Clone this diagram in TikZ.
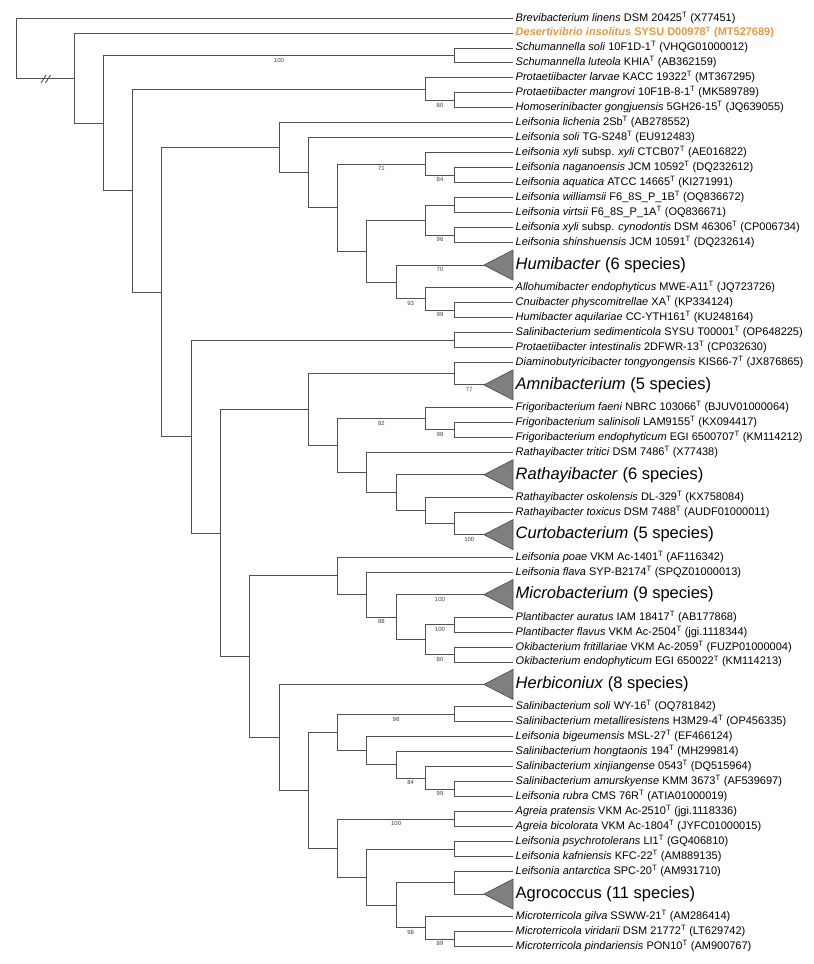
\documentclass[tikz,border=0pt]{standalone}
\usepackage{fontspec}
\setmainfont{Liberation Sans}
\definecolor{ln}{HTML}{505050}
\definecolor{org}{RGB}{236,151,64}
\definecolor{trif}{HTML}{7F7F7F}
\newcommand\tsup{\textsuperscript{T}}
\newcommand\ed[2]{\draw[br] (#1) |- (#2);}
\newcommand\eb[3]{\draw[br] (#1) |- node[bs,pos=0.75]{#3} (#2);}
\begin{document}
\begin{tikzpicture}[x=1pt, y=-14.976pt,
  br/.style={draw=ln, line width=0.9pt},
  lf/.style={anchor=west, inner sep=2.5pt, font=\fontsize{11}{12}\selectfont, text height=8pt, text depth=2pt},
  big/.style={anchor=west, inner sep=2.5pt, font=\fontsize{16.5}{18}\selectfont, text height=12pt, text depth=3.5pt},
  bs/.style={font=\fontsize{6}{6}\selectfont, text=black!75, inner sep=0pt, yshift=-4.6pt},
  tri/.style={fill=trif, draw=ln, line width=0.7pt}]
\useasboundingbox (0,-1.20192) rectangle (814,63.16774);
% leaves
\foreach \n/\u in {1/0,2/1,3/2,4/3,5/4,6/5,7/6,8/7,9/8,10/9,11/10,12/11,13/12,14/13,15/14,16/15,
  18/18,19/19,20/20,21/21,22/22,23/23,25/26,26/27,27/28,28/29,30/32,31/33,33/36,34/37,
  36/40,37/41,38/42,39/43,41/46,42/47,43/48,44/49,45/50,46/51,47/52,48/53,49/54,50/55,51/56,52/57,
  54/60,55/61,56/62}
  {\coordinate (l\n) at (513,\u);}
% triangle apexes
\coordinate (hu) at (483.92,16.5);
\coordinate (am) at (483.92,24.5);
\coordinate (ra) at (483.92,30.5);
\coordinate (cu) at (483.92,34.5);
\coordinate (mi) at (483.92,38.5);
\coordinate (he) at (483.92,44.5);
\coordinate (ag) at (483.92,58.5);
\foreach \t in {hu,am,ra,cu,mi,he,ag}
  {\filldraw[tri] (\t) -- ++(29.08,-1) -- ++(0,2) -- cycle;}
% internal nodes
\coordinate (root) at (16,2.00351);
\coordinate (n1) at (74,4.00702);
\coordinate (n2) at (103.28,7.01404);
\coordinate (sch) at (454.64,2.5);
\coordinate (n3) at (132.56,11.52808);
\coordinate (pr) at (425.36,4.75);
\coordinate (pr2) at (454.64,5.5);
\coordinate (n4) at (161.84,18.30615);
\coordinate (le) at (278.96,8.66406);
\coordinate (le9) at (308.24,10.32813);
\coordinate (le10) at (337.52,12.65625);
\coordinate (le13a) at (425.36,9.75);
\coordinate (le14a) at (454.64,10.5);
\coordinate (le11) at (366.8,15.5625);
\coordinate (le13b) at (425.36,13.5);
\coordinate (le14b) at (454.64,12.5);
\coordinate (le14c) at (454.64,14.5);
\coordinate (le12) at (396.08,17.625);
\coordinate (le13c) at (425.36,18.75);
\coordinate (le14d) at (454.64,19.5);
\coordinate (n5) at (191.12,27.94824);
\coordinate (sa) at (454.64,21.5);
\coordinate (n6) at (220.4,34.39648);
\coordinate (a9) at (308.24,26.14844);
\coordinate (a14) at (454.64,23.75);
\coordinate (a10) at (337.52,28.54688);
\coordinate (a13) at (425.36,26.75);
\coordinate (a14b) at (454.64,27.5);
\coordinate (a11) at (366.8,30.34375);
\coordinate (a12) at (396.08,31.6875);
\coordinate (a13b) at (425.36,32.875);
\coordinate (a14c) at (454.64,33.75);
\coordinate (n7) at (249.68,42.64453);
\coordinate (b10) at (337.52,37.25);
\coordinate (b11) at (366.8,38.5);
\coordinate (b12) at (396.08,40);
\coordinate (b13) at (425.36,41.5);
\coordinate (b14a) at (454.64,40.5);
\coordinate (b14b) at (454.64,42.5);
\coordinate (n8) at (278.96,48.03906);
\coordinate (c9) at (308.24,51.57813);
\coordinate (c10) at (337.52,47.71875);
\coordinate (c14a) at (454.64,46.5);
\coordinate (c11) at (366.8,48.9375);
\coordinate (c12) at (396.08,49.875);
\coordinate (c13) at (425.36,50.75);
\coordinate (c14b) at (454.64,51.5);
\coordinate (d10) at (337.52,55.4375);
\coordinate (d14a) at (454.64,53.5);
\coordinate (d11) at (366.8,57.375);
\coordinate (d14b) at (454.64,55.5);
\coordinate (d12) at (396.08,59.25);
\coordinate (d14c) at (454.64,57.75);
\coordinate (d13) at (425.36,60.75);
\coordinate (d14d) at (454.64,61.5);
% edges
\ed{root}{l1}\ed{root}{n1}
\draw[br] (41,4.34) -- (46,3.81) (45.5,4.34) -- (50.5,3.81);
\ed{n1}{l2}\ed{n1}{n2}
\eb{n2}{sch}{100}\ed{n2}{n3}
\ed{sch}{l3}\ed{sch}{l4}
\ed{n3}{pr}\ed{n3}{n4}
\ed{pr}{l5}\eb{pr}{pr2}{80}
\ed{pr2}{l6}\ed{pr2}{l7}
\ed{n4}{le}\ed{n4}{n5}
\ed{le}{l8}\ed{le}{le9}
\ed{le9}{l9}\ed{le9}{le10}
\eb{le10}{le13a}{71}\ed{le10}{le11}
\ed{le13a}{l10}\eb{le13a}{le14a}{84}
\ed{le14a}{l11}\ed{le14a}{l12}
\ed{le11}{le13b}\ed{le11}{le12}
\ed{le13b}{le14b}\eb{le13b}{le14c}{96}
\ed{le14b}{l13}\ed{le14b}{l14}
\ed{le14c}{l15}\ed{le14c}{l16}
\eb{le12}{hu}{70}\eb{le12}{le13c}{93}
\ed{le13c}{l18}\eb{le13c}{le14d}{99}
\ed{le14d}{l19}\ed{le14d}{l20}
\ed{n5}{sa}\ed{n5}{n6}
\ed{sa}{l21}\ed{sa}{l22}
\ed{n6}{a9}\ed{n6}{n7}
\ed{a9}{a14}\ed{a9}{a10}
\ed{a14}{l23}\eb{a14}{am}{77}
\eb{a10}{a13}{82}\ed{a10}{a11}
\ed{a13}{l25}\eb{a13}{a14b}{98}
\ed{a14b}{l26}\ed{a14b}{l27}
\ed{a11}{l28}\ed{a11}{a12}
\ed{a12}{ra}\ed{a12}{a13b}
\ed{a13b}{l30}\ed{a13b}{a14c}
\ed{a14c}{l31}\eb{a14c}{cu}{100}
\ed{n7}{b10}\ed{n7}{n8}
\ed{b10}{l33}\ed{b10}{b11}
\ed{b11}{l34}\eb{b11}{b12}{88}
\eb{b12}{mi}{100}\ed{b12}{b13}
\eb{b13}{b14a}{100}\eb{b13}{b14b}{80}
\ed{b14a}{l36}\ed{b14a}{l37}
\ed{b14b}{l38}\ed{b14b}{l39}
\ed{n8}{he}\ed{n8}{c9}
\ed{c9}{c10}\ed{c9}{d10}
\eb{c10}{c14a}{98}\ed{c10}{c11}
\ed{c14a}{l41}\ed{c14a}{l42}
\ed{c11}{l43}\ed{c11}{c12}
\ed{c12}{l44}\eb{c12}{c13}{84}
\ed{c13}{l45}\eb{c13}{c14b}{99}
\ed{c14b}{l46}\ed{c14b}{l47}
\eb{d10}{d14a}{100}\ed{d10}{d11}
\ed{d14a}{l48}\ed{d14a}{l49}
\ed{d11}{d14b}\ed{d11}{d12}
\ed{d14b}{l50}\ed{d14b}{l51}
\ed{d12}{d14c}\eb{d12}{d13}{98}
\ed{d14c}{l52}\ed{d14c}{ag}
\ed{d13}{l54}\eb{d13}{d14d}{89}
\ed{d14d}{l55}\ed{d14d}{l56}
% labels
\node[lf] (t1) at (l1) {\textit{Brevibacterium linens} DSM 20425\tsup{} (X77451)};
\node[lf, text=org, font=\fontsize{11}{12}\selectfont\bfseries] (t2) at (l2) {\textit{Desertivibrio insolitus} SYSU D00978\tsup{} (MT527689)};
\node[lf] (t3) at (l3) {\textit{Schumannella soli} 10F1D-1\tsup{} (VHQG01000012)};
\node[lf] (t4) at (l4) {\textit{Schumannella luteola} KHIA\tsup{} (AB362159)};
\node[lf] (t5) at (l5) {\textit{Protaetiibacter larvae} KACC 19322\tsup{} (MT367295)};
\node[lf] (t6) at (l6) {\textit{Protaetiibacter mangrovi} 10F1B-8-1\tsup{} (MK589789)};
\node[lf] (t7) at (l7) {\textit{Homoserinibacter gongjuensis} 5GH26-15\tsup{} (JQ639055)};
\node[lf] (t8) at (l8) {\textit{Leifsonia lichenia} 2Sb\tsup{} (AB278552)};
\node[lf] (t9) at (l9) {\textit{Leifsonia soli} TG-S248\tsup{} (EU912483)};
\node[lf] (t10) at (l10) {\textit{Leifsonia xyli} subsp. \textit{xyli} CTCB07\tsup{} (AE016822)};
\node[lf] (t11) at (l11) {\textit{Leifsonia naganoensis} JCM 10592\tsup{} (DQ232612)};
\node[lf] (t12) at (l12) {\textit{Leifsonia aquatica} ATCC 14665\tsup{} (KI271991)};
\node[lf] (t13) at (l13) {\textit{Leifsonia williamsii} F6\_8S\_P\_1B\tsup{} (OQ836672)};
\node[lf] (t14) at (l14) {\textit{Leifsonia virtsii} F6\_8S\_P\_1A\tsup{} (OQ836671)};
\node[lf] (t15) at (l15) {\textit{Leifsonia xyli} subsp. \textit{cynodontis} DSM 46306\tsup{} (CP006734)};
\node[lf] (t16) at (l16) {\textit{Leifsonia shinshuensis} JCM 10591\tsup{} (DQ232614)};
\node[big] (t17) at (513,16.5) {\textit{Humibacter} (6 species)};
\node[lf] (t18) at (l18) {\textit{Allohumibacter endophyticus} MWE-A11\tsup{} (JQ723726)};
\node[lf] (t19) at (l19) {\textit{Cnuibacter physcomitrellae} XA\tsup{} (KP334124)};
\node[lf] (t20) at (l20) {\textit{Humibacter aquilariae} CC-YTH161\tsup{} (KU248164)};
\node[lf] (t21) at (l21) {\textit{Salinibacterium sedimenticola} SYSU T00001\tsup{} (OP648225)};
\node[lf] (t22) at (l22) {\textit{Protaetiibacter intestinalis} 2DFWR-13\tsup{} (CP032630)};
\node[lf] (t23) at (l23) {\textit{Diaminobutyricibacter tongyongensis} KIS66-7\tsup{} (JX876865)};
\node[big] (t24) at (513,24.5) {\textit{Amnibacterium} (5 species)};
\node[lf] (t25) at (l25) {\textit{Frigoribacterium faeni} NBRC 103066\tsup{} (BJUV01000064)};
\node[lf] (t26) at (l26) {\textit{Frigoribacterium salinisoli} LAM9155\tsup{} (KX094417)};
\node[lf] (t27) at (l27) {\textit{Frigoribacterium endophyticum} EGI 6500707\tsup{} (KM114212)};
\node[lf] (t28) at (l28) {\textit{Rathayibacter tritici} DSM 7486\tsup{} (X77438)};
\node[big] (t29) at (513,30.5) {\textit{Rathayibacter} (6 species)};
\node[lf] (t30) at (l30) {\textit{Rathayibacter oskolensis} DL-329\tsup{} (KX758084)};
\node[lf] (t31) at (l31) {\textit{Rathayibacter toxicus} DSM 7488\tsup{} (AUDF01000011)};
\node[big] (t32) at (513,34.5) {\textit{Curtobacterium} (5 species)};
\node[lf] (t33) at (l33) {\textit{Leifsonia poae} VKM Ac-1401\tsup{} (AF116342)};
\node[lf] (t34) at (l34) {\textit{Leifsonia flava} SYP-B2174\tsup{} (SPQZ01000013)};
\node[big] (t35) at (513,38.5) {\textit{Microbacterium} (9 species)};
\node[lf] (t36) at (l36) {\textit{Plantibacter auratus} IAM 18417\tsup{} (AB177868)};
\node[lf] (t37) at (l37) {\textit{Plantibacter flavus} VKM Ac-2504\tsup{} (jgi.1118344)};
\node[lf] (t38) at (l38) {\textit{Okibacterium fritillariae} VKM Ac-2059\tsup{} (FUZP01000004)};
\node[lf] (t39) at (l39) {\textit{Okibacterium endophyticum} EGI 650022\tsup{} (KM114213)};
\node[big] (t40) at (513,44.5) {\textit{Herbiconiux} (8 species)};
\node[lf] (t41) at (l41) {\textit{Salinibacterium soli} WY-16\tsup{} (OQ781842)};
\node[lf] (t42) at (l42) {\textit{Salinibacterium metalliresistens} H3M29-4\tsup{} (OP456335)};
\node[lf] (t43) at (l43) {\textit{Leifsonia bigeumensis} MSL-27\tsup{} (EF466124)};
\node[lf] (t44) at (l44) {\textit{Salinibacterium hongtaonis} 194\tsup{} (MH299814)};
\node[lf] (t45) at (l45) {\textit{Salinibacterium xinjiangense} 0543\tsup{} (DQ515964)};
\node[lf] (t46) at (l46) {\textit{Salinibacterium amurskyense} KMM 3673\tsup{} (AF539697)};
\node[lf] (t47) at (l47) {\textit{Leifsonia rubra} CMS 76R\tsup{} (ATIA01000019)};
\node[lf] (t48) at (l48) {\textit{Agreia pratensis} VKM Ac-2510\tsup{} (jgi.1118336)};
\node[lf] (t49) at (l49) {\textit{Agreia bicolorata} VKM Ac-1804\tsup{} (JYFC01000015)};
\node[lf] (t50) at (l50) {\textit{Leifsonia psychrotolerans} LI1\tsup{} (GQ406810)};
\node[lf] (t51) at (l51) {\textit{Leifsonia kafniensis} KFC-22\tsup{} (AM889135)};
\node[lf] (t52) at (l52) {\textit{Leifsonia antarctica} SPC-20\tsup{} (AM931710)};
\node[big] (t53) at (513,58.5) {Agrococcus (11 species)};
\node[lf] (t54) at (l54) {\textit{Microterricola gilva} SSWW-21\tsup{} (AM286414)};
\node[lf] (t55) at (l55) {\textit{Microterricola viridarii} DSM 21772\tsup{} (LT629742)};
\node[lf] (t56) at (l56) {\textit{Microterricola pindariensis} PON10\tsup{} (AM900767)};
\end{tikzpicture}
\end{document}
